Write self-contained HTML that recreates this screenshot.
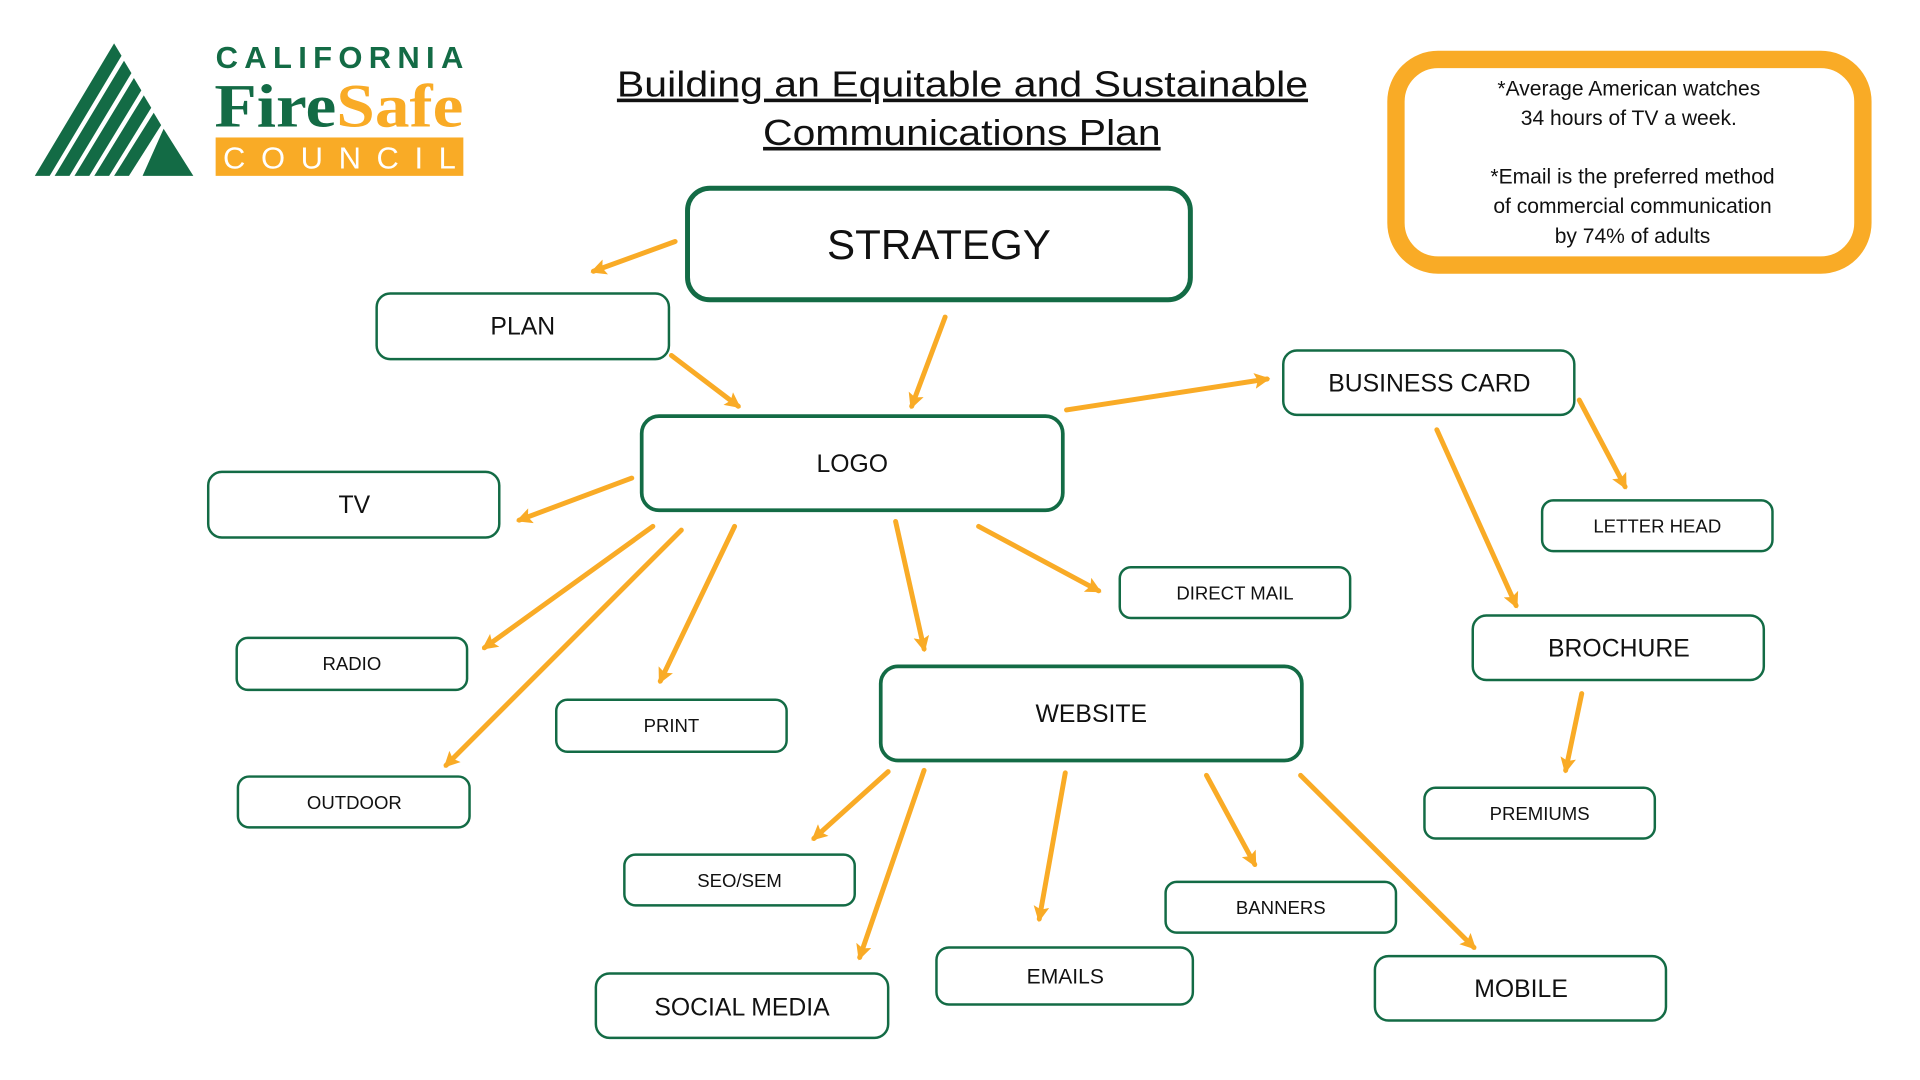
<!DOCTYPE html>
<html><head><meta charset="utf-8"><style>
html,body{margin:0;padding:0;background:#fff;}
svg{display:block;}
text{font-family:"Liberation Sans",sans-serif;}
</style></head><body>
<svg width="1920" height="1080" viewBox="0 0 1550 872" xmlns="http://www.w3.org/2000/svg">
<defs>
<marker id="a" viewBox="0 0 10 10" refX="8" refY="5" markerWidth="3.2" markerHeight="3.2" orient="auto" markerUnits="strokeWidth">
<path d="M0,0 L10,5 L0,10 L2,5 z" fill="#f9ab26"/>
</marker>
</defs>
<rect width="1550" height="872" fill="#fff"/>
<!-- logo -->
<g fill="#136b45">
<polygon points="28,142 92,35 98,45 40,142"/>
<polygon points="44,142 100,49 106,59 56,142"/>
<polygon points="60,142 108,63 114,73 72,142"/>
<polygon points="76,142 116,77 122,87 88,142"/>
<polygon points="92,142 124,91 130,101 104,142"/>
<polygon points="115,142 132,104 156,142"/>
</g>
<text x="174" y="55" font-size="25" font-weight="bold" fill="#136b45" textLength="200" lengthAdjust="spacing">CALIFORNIA</text>
<text x="173" y="102" font-size="50" font-weight="bold" fill="#136b45" style="font-family:'Liberation Serif',serif" textLength="201" lengthAdjust="spacingAndGlyphs">Fire<tspan fill="#f9ab26">Safe</tspan></text>
<rect x="174" y="111" width="200" height="31" fill="#f9ab26"/>
<text x="180" y="136" font-size="25" fill="#fff" textLength="188" lengthAdjust="spacing">COUNCIL</text>
<!-- title -->
<text x="498" y="78" font-size="29" fill="#111" text-decoration="underline" textLength="558" lengthAdjust="spacingAndGlyphs">Building an Equitable and Sustainable</text>
<text x="616" y="117" font-size="29" fill="#111" text-decoration="underline" textLength="321" lengthAdjust="spacingAndGlyphs">Communications Plan</text>
<!-- info box -->
<rect x="1127" y="48" width="377" height="166" rx="34" fill="none" stroke="#f9ab26" stroke-width="14"/>
<g font-size="17" fill="#111" text-anchor="middle">
<text x="1315" y="77">*Average American watches</text>
<text x="1315" y="101">34 hours of TV a week.</text>
<text x="1318" y="148">*Email is the preferred method</text>
<text x="1318" y="172">of commercial communication</text>
<text x="1318" y="196">by 74% of adults</text>
</g>
<!-- arrows -->
<g stroke="#f9ab26" stroke-width="4" stroke-linecap="round" fill="none" marker-end="url(#a)">
<line x1="545" y1="195" x2="479" y2="219"/>
<line x1="763" y1="256" x2="736" y2="328"/>
<line x1="542" y1="287" x2="596" y2="328"/>
<line x1="510" y1="386" x2="419" y2="420"/>
<line x1="861" y1="331" x2="1023" y2="306"/>
<line x1="527" y1="425" x2="391" y2="523"/>
<line x1="550" y1="428" x2="360" y2="618"/>
<line x1="593" y1="425" x2="533" y2="550"/>
<line x1="723" y1="421" x2="746" y2="524"/>
<line x1="790" y1="425" x2="887" y2="477"/>
<line x1="1160" y1="347" x2="1224" y2="489"/>
<line x1="1275" y1="323" x2="1312" y2="393"/>
<line x1="1277" y1="560" x2="1264" y2="622"/>
<line x1="717" y1="623" x2="657" y2="677"/>
<line x1="746" y1="622" x2="694" y2="773"/>
<line x1="860" y1="624" x2="839" y2="742"/>
<line x1="974" y1="626" x2="1013" y2="698"/>
<line x1="1050" y1="626" x2="1190" y2="765"/>
</g>
<!-- boxes -->
<g fill="#fff" stroke="#136b45">
<rect x="555" y="152" width="406" height="90" rx="18" stroke-width="4"/>
<rect x="518" y="336" width="340" height="76" rx="14" stroke-width="3"/>
<rect x="711" y="538" width="340" height="76" rx="14" stroke-width="3"/>
<g stroke-width="2">
<rect x="304" y="237" width="236" height="53" rx="11"/>
<rect x="168" y="381" width="235" height="53" rx="11"/>
<rect x="191" y="515" width="186" height="42" rx="9"/>
<rect x="449" y="565" width="186" height="42" rx="9"/>
<rect x="192" y="627" width="187" height="41" rx="9"/>
<rect x="904" y="458" width="186" height="41" rx="9"/>
<rect x="1036" y="283" width="235" height="52" rx="11"/>
<rect x="1245" y="404" width="186" height="41" rx="9"/>
<rect x="1189" y="497" width="235" height="52" rx="11"/>
<rect x="1150" y="636" width="186" height="41" rx="9"/>
<rect x="504" y="690" width="186" height="41" rx="9"/>
<rect x="481" y="786" width="236" height="52" rx="11"/>
<rect x="756" y="765" width="207" height="46" rx="10"/>
<rect x="941" y="712" width="186" height="41" rx="9"/>
<rect x="1110" y="772" width="235" height="52" rx="11"/>
</g>
</g>
<g fill="#111" text-anchor="middle">
<text x="758" y="209" font-size="34">STRATEGY</text>
<text x="688" y="381" font-size="20">LOGO</text>
<text x="881" y="583" font-size="20">WEBSITE</text>
<text x="422" y="270" font-size="20">PLAN</text>
<text x="286" y="414" font-size="20">TV</text>
<text x="284" y="541" font-size="15">RADIO</text>
<text x="542" y="591" font-size="15">PRINT</text>
<text x="286" y="653" font-size="15">OUTDOOR</text>
<text x="997" y="484" font-size="15">DIRECT MAIL</text>
<text x="1154" y="316" font-size="20">BUSINESS CARD</text>
<text x="1338" y="430" font-size="15">LETTER HEAD</text>
<text x="1307" y="530" font-size="20">BROCHURE</text>
<text x="1243" y="662" font-size="15">PREMIUMS</text>
<text x="597" y="716" font-size="15">SEO/SEM</text>
<text x="599" y="820" font-size="20">SOCIAL MEDIA</text>
<text x="860" y="794" font-size="17">EMAILS</text>
<text x="1034" y="738" font-size="15">BANNERS</text>
<text x="1228" y="805" font-size="20">MOBILE</text>
</g>
</svg>
</body></html>
